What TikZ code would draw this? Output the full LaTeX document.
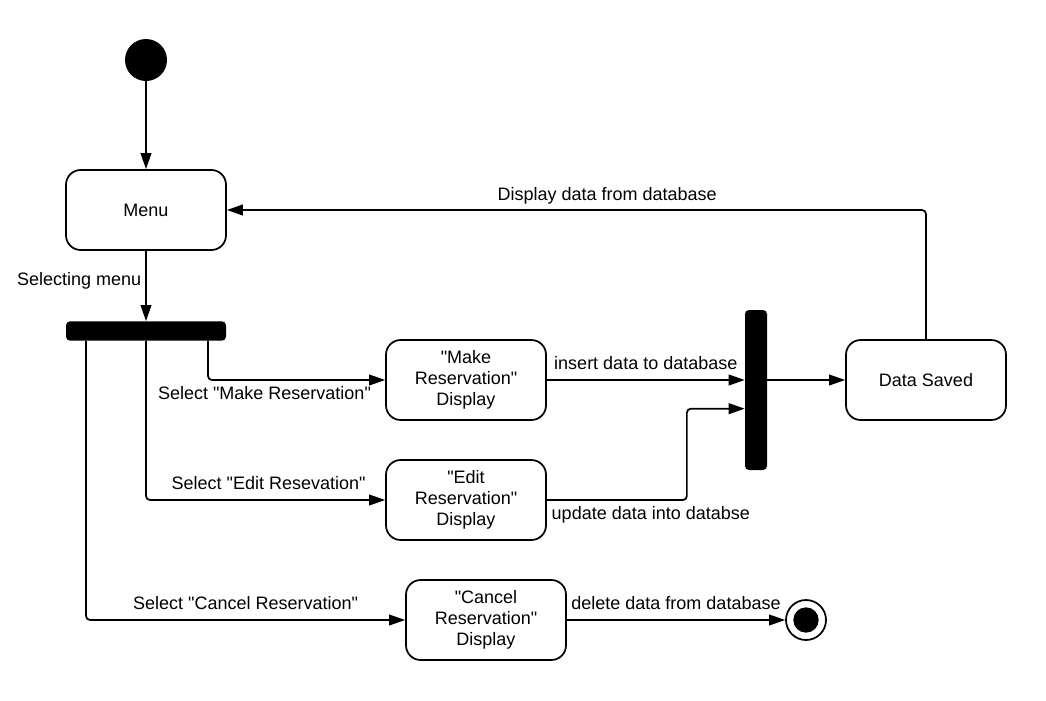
\documentclass[tikz,border=0pt]{standalone}
\usepackage{fontspec}
\setmainfont{Liberation Sans}[Ligatures=TeXOff]
\usetikzlibrary{shapes,arrows,positioning,calc,arrows.meta}

\begin{document}
\begin{tikzpicture}[x=0.75pt,y=-0.75pt,
    font=\fontsize{13.5}{16}\selectfont,
    activity/.style={draw, line width=1.3pt, rounded corners=11pt, minimum width=120pt, minimum height=60pt, align=center, inner sep=2pt},
    bar/.style={fill=black, rounded corners=3pt, inner sep=0pt},
    flow/.style={-{Triangle[length=12pt,width=8pt]}, line width=1.3pt},
    lbl/.style={inner sep=3pt},
    lblup/.style={inner sep=7pt}]
    \useasboundingbox (0,0) rectangle (1046,700);
    % start and end
    \node[circle, fill=black, minimum size=31.5pt, inner sep=0pt] (start) at (146,60) {};
    \node[circle, draw, line width=1.3pt, minimum size=30pt, inner sep=0pt] (stop) at (806,620) {};
    \node[circle, fill=black, minimum size=19pt, inner sep=0pt] at (stop) {};
    % activities
    \node[activity] (menu) at (146,210) {Menu};
    \node[activity] (make) at (466,380) {"Make\\Reservation"\\Display};
    \node[activity] (edit) at (466,500) {"Edit\\Reservation"\\Display};
    \node[activity] (cancel) at (486,620) {"Cancel\\Reservation"\\Display};
    \node[activity] (saved) at (926,380) {Data Saved};
    % fork and join
    \node[bar, minimum width=120pt, minimum height=14.5pt] (fork) at (146,331) {};
    \node[bar, minimum width=16.5pt, minimum height=120pt] (join) at (756,390) {};

    \draw[flow] (start) -- (menu);
    \draw[flow] (menu) -- node[lbl, left, pos=0.42] {Selecting menu} (fork);
    \draw[flow, rounded corners=3pt] ([xshift=46.5pt]fork.south) |- (make.west)
        node[lbl, anchor=north east, xshift=-7pt, yshift=-1pt] {Select "Make Reservation"};
    \draw[flow, rounded corners=3pt] (fork.south) |- (edit.west)
        node[lblup, anchor=south east, xshift=-7pt] {Select "Edit Resevation"};
    \draw[flow, rounded corners=3pt] ([xshift=-45pt]fork.south) |- node[lblup, above, pos=0.75] {Select "Cancel Reservation"} (cancel.west);
    \draw[flow] (make.east) -- node[lblup, above] {insert data to database} (make.east -| join.west);
    \draw[flow, rounded corners=3pt] (edit.east) node[lbl, below right, yshift=-1pt] {update data into databse}
        -- ++(140,0) |- ([yshift=-14pt]join.west);
    \draw[flow] (join.east |- saved.west) -- (saved.west);
    \draw[flow, rounded corners=3pt] (saved.north) |- node[lbl, above, pos=0.728, inner sep=4pt] {Display data from database} (menu.east);
    \draw[flow] (cancel.east) -- node[lblup, above] {delete data from database} (stop);
\end{tikzpicture}
\end{document}
